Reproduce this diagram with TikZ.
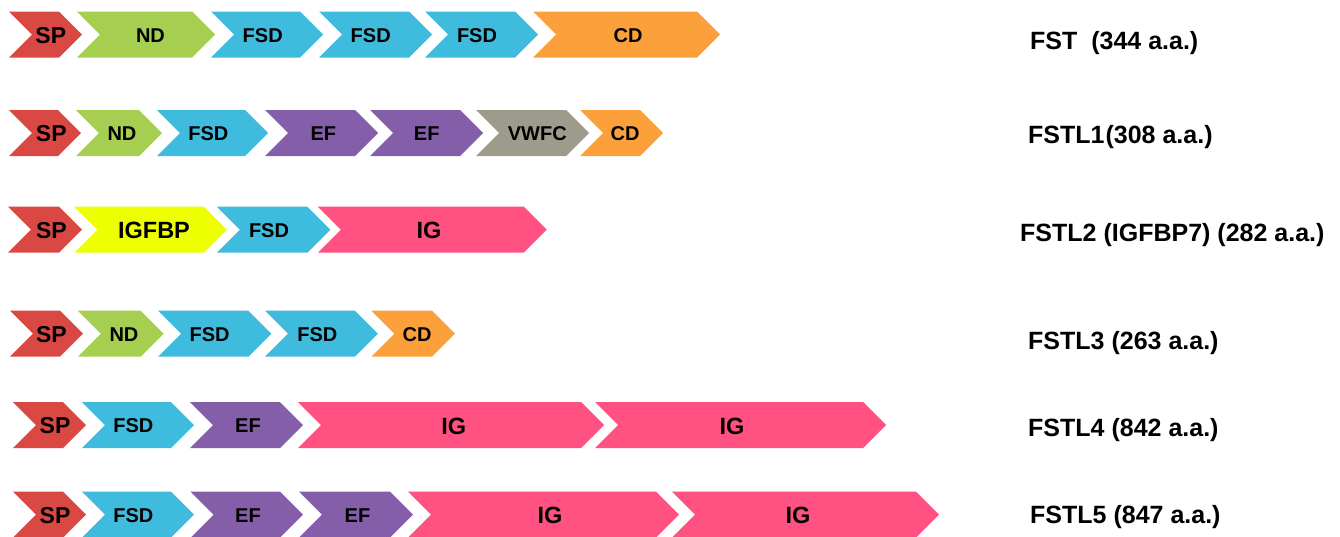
\documentclass[tikz,border=0pt]{standalone}
\usepackage{fontspec}
\setmainfont{Liberation Sans}
\definecolor{cSP}{RGB}{217,72,67}
\definecolor{cND}{RGB}{166,206,80}
\definecolor{cFSD}{RGB}{62,187,221}
\definecolor{cCD}{RGB}{252,160,60}
\definecolor{cEF}{RGB}{133,94,170}
\definecolor{cVW}{RGB}{157,155,140}
\definecolor{cIGFBP}{RGB}{238,255,0}
\definecolor{cIG}{RGB}{255,82,130}
% #1 name, #2 left x, #3 tip x, #4 mid y, #5 colour, #6 text x, #7 text style, #8 text
\newcommand{\domchev}[8]{%
  \fill[#5] (#2,#4-23) -- (#3-23,#4-23) -- (#3,#4) -- (#3-23,#4+23) -- (#2,#4+23) -- (#2+23,#4) -- cycle;
  \node[#7] (#1) at (#6,#4+1) {#8};}
\begin{document}
\begin{tikzpicture}[x=1pt,y=-1pt,
  dom/.style={inner sep=0pt,font=\fontsize{20}{24}\selectfont\bfseries},
  domsp/.style={inner sep=0pt,font=\fontsize{23}{27}\selectfont\bfseries},
  dombig/.style={inner sep=0pt,font=\fontsize{23.5}{28}\selectfont\bfseries},
  lab/.style={inner sep=0pt,anchor=base west,font=\fontsize{25}{30}\selectfont\bfseries}]
\fill[white] (0,0) rectangle (1340,536);
\useasboundingbox (0,0) rectangle (1340,536);
% Row 1: FST
\domchev{a1}{9}{82}{34.5}{cSP}{50.8}{domsp}{SP}
\domchev{a2}{77}{215}{34.5}{cND}{150.5}{dom}{ND}
\domchev{a3}{211}{323}{34.5}{cFSD}{262.7}{dom}{FSD}
\domchev{a4}{319}{432}{34.5}{cFSD}{370.7}{dom}{FSD}
\domchev{a5}{425}{538}{34.5}{cFSD}{477}{dom}{FSD}
\domchev{a6}{533}{720}{34.5}{cCD}{628}{dom}{CD}
% Row 2: FSTL1
\domchev{b1}{9}{81}{133}{cSP}{51.3}{domsp}{SP}
\domchev{b2}{76}{162}{133}{cND}{122}{dom}{ND}
\domchev{b3}{157}{268}{133}{cFSD}{208.3}{dom}{FSD}
\domchev{b4}{265}{378}{133}{cEF}{323.3}{dom}{EF}
\domchev{b5}{370}{483}{133}{cEF}{426.7}{dom}{EF}
\domchev{b6}{476}{589}{133}{cVW}{537.3}{dom}{VWFC}
\domchev{b7}{580}{663}{133}{cCD}{625}{dom}{CD}
% Row 3: FSTL2
\domchev{c1}{8}{82}{229.7}{cSP}{51.4}{domsp}{SP}
\domchev{c2}{74.3}{226.8}{229.7}{cIGFBP}{154}{dombig}{IGFBP}
\domchev{c3}{216.8}{330.4}{229.7}{cFSD}{269}{dom}{FSD}
\domchev{c4}{317.9}{546.7}{229.7}{cIG}{429}{dombig}{IG}
% Row 4: FSTL3
\domchev{d1}{10}{83}{333.7}{cSP}{51.4}{domsp}{SP}
\domchev{d2}{77.9}{163.6}{333.7}{cND}{124}{dom}{ND}
\domchev{d3}{158.2}{271.4}{333.7}{cFSD}{209.6}{dom}{FSD}
\domchev{d4}{265}{377.9}{333.7}{cFSD}{317.3}{dom}{FSD}
\domchev{d5}{371.4}{455}{333.7}{cCD}{417}{dom}{CD}
% Row 5: FSTL4
\domchev{e1}{13}{86}{425}{cSP}{55}{domsp}{SP}
\domchev{e2}{82}{194}{425}{cFSD}{133.3}{dom}{FSD}
\domchev{e3}{190}{303}{425}{cEF}{248}{dom}{EF}
\domchev{e4}{298}{604}{425}{cIG}{453.8}{dombig}{IG}
\domchev{e5}{595}{886}{425}{cIG}{732}{dombig}{IG}
% Row 6: FSTL5
\domchev{f1}{13}{86}{514.7}{cSP}{55}{domsp}{SP}
\domchev{f2}{82}{194}{514.7}{cFSD}{133.3}{dom}{FSD}
\domchev{f3}{190.7}{303}{514.7}{cEF}{248}{dom}{EF}
\domchev{f4}{299}{413}{514.7}{cEF}{357.5}{dom}{EF}
\domchev{f5}{408}{679}{514.7}{cIG}{550}{dombig}{IG}
\domchev{f6}{672}{939}{514.7}{cIG}{798}{dombig}{IG}
% Labels
\node[lab] (l1) at (1030,49) {FST\ \ (344 a.a.)};
\node[lab] (l2) at (1028,143) {FSTL1\kern1pt(308 a.a.)};
\node[lab] (l3) at (1020,241) {FSTL2 (IGFBP7) (282 a.a.)};
\node[lab] (l4) at (1028,349) {FSTL3 (263 a.a.)};
\node[lab] (l5) at (1028,436) {FSTL4 (842 a.a.)};
\node[lab] (l6) at (1030,523) {FSTL5 (847 a.a.)};
\end{tikzpicture}
\end{document}
